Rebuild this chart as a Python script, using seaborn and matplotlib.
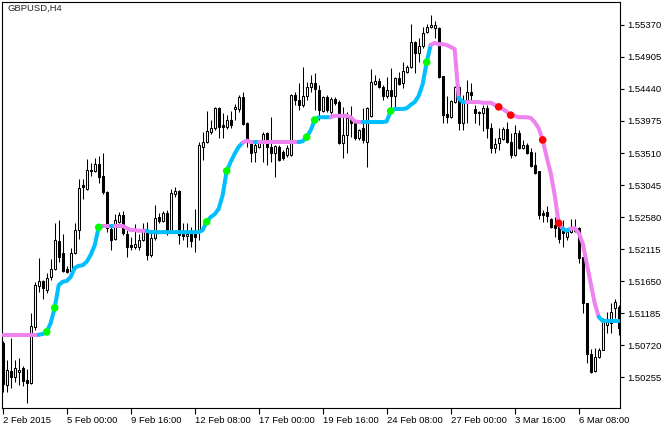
import numpy as np
import pandas as pd
import seaborn as sns
from matplotlib import pyplot as plt

# GBPUSD H4 bars (bar 0 = 2 Feb 2015, 4 hours per bar)
opens = [
    1.5075, 1.5014, 1.5034, 1.5025, 1.5033, 1.5039, 1.5021, 1.5017, 1.5098, 1.5158,
    1.5165, 1.5152, 1.5171, 1.5182, 1.5223, 1.5206, 1.5182, 1.5180, 1.5206, 1.5239,
    1.5305, 1.5299, 1.5326, 1.5325, 1.5335, 1.5318, 1.5294, 1.5241, 1.5226, 1.5251,
    1.5261, 1.5233, 1.5217, 1.5214, 1.5214, 1.5225, 1.5239, 1.5203, 1.5228, 1.5258,
    1.5252, 1.5264, 1.5236, 1.5291, 1.5296, 1.5233, 1.5230, 1.5235, 1.5235, 1.5236,
    1.5360, 1.5367, 1.5381, 1.5387, 1.5416, 1.5392, 1.5389, 1.5399, 1.5415, 1.5415,
    1.5432, 1.5395, 1.5366, 1.5352, 1.5360, 1.5367, 1.5380, 1.5360, 1.5351, 1.5360,
    1.5352, 1.5348, 1.5348, 1.5435, 1.5428, 1.5421, 1.5434, 1.5447, 1.5453, 1.5443,
    1.5412, 1.5432, 1.5411, 1.5429, 1.5425, 1.5366, 1.5377, 1.5402, 1.5395, 1.5373,
    1.5387, 1.5367, 1.5405, 1.5451, 1.5456, 1.5447, 1.5434, 1.5443, 1.5434, 1.5460,
    1.5453, 1.5469, 1.5476, 1.5512, 1.5496, 1.5506, 1.5527, 1.5534, 1.5533, 1.5533,
    1.5463, 1.5408, 1.5403, 1.5425, 1.5447, 1.5395, 1.5425, 1.5440, 1.5415, 1.5411,
    1.5409, 1.5416, 1.5387, 1.5358, 1.5366, 1.5371, 1.5386, 1.5367, 1.5348, 1.5380,
    1.5358, 1.5363, 1.5352, 1.5334, 1.5325, 1.5264, 1.5265, 1.5255, 1.5246, 1.5243,
    1.5238, 1.5229, 1.5236, 1.5242, 1.5242, 1.5200, 1.5133, 1.5059, 1.5034, 1.5055,
    1.5065, 1.5101, 1.5104, 1.5126, 1.5127,
]
highs = [
    1.5078, 1.5050, 1.5082, 1.5050, 1.5053, 1.5042, 1.5037, 1.5118, 1.5164, 1.5198,
    1.5166, 1.5177, 1.5197, 1.5249, 1.5254, 1.5233, 1.5187, 1.5213, 1.5249, 1.5313,
    1.5313, 1.5342, 1.5336, 1.5344, 1.5347, 1.5351, 1.5296, 1.5246, 1.5262, 1.5265,
    1.5267, 1.5239, 1.5229, 1.5248, 1.5233, 1.5249, 1.5251, 1.5239, 1.5275, 1.5264,
    1.5267, 1.5268, 1.5299, 1.5302, 1.5297, 1.5249, 1.5249, 1.5243, 1.5270, 1.5367,
    1.5381, 1.5412, 1.5399, 1.5418, 1.5418, 1.5409, 1.5406, 1.5412, 1.5422, 1.5435,
    1.5440, 1.5396, 1.5367, 1.5367, 1.5370, 1.5381, 1.5381, 1.5403, 1.5363, 1.5363,
    1.5355, 1.5363, 1.5437, 1.5440, 1.5453, 1.5476, 1.5454, 1.5464, 1.5467, 1.5450,
    1.5434, 1.5435, 1.5432, 1.5432, 1.5428, 1.5418, 1.5411, 1.5419, 1.5399, 1.5386,
    1.5416, 1.5418, 1.5473, 1.5464, 1.5460, 1.5450, 1.5461, 1.5474, 1.5461, 1.5469,
    1.5483, 1.5479, 1.5538, 1.5514, 1.5518, 1.5534, 1.5538, 1.5552, 1.5543, 1.5534,
    1.5463, 1.5434, 1.5428, 1.5448, 1.5448, 1.5435, 1.5457, 1.5453, 1.5421, 1.5412,
    1.5421, 1.5421, 1.5395, 1.5373, 1.5387, 1.5389, 1.5396, 1.5380, 1.5392, 1.5384,
    1.5370, 1.5366, 1.5358, 1.5352, 1.5325, 1.5268, 1.5274, 1.5257, 1.5258, 1.5252,
    1.5254, 1.5242, 1.5255, 1.5255, 1.5243, 1.5200, 1.5133, 1.5066, 1.5068, 1.5068,
    1.5111, 1.5120, 1.5133, 1.5139, 1.5130,
]
lows = [
    1.5004, 1.5004, 1.5010, 1.5018, 1.5014, 1.5012, 1.4988, 1.5015, 1.5094, 1.5149,
    1.5139, 1.5148, 1.5166, 1.5181, 1.5193, 1.5178, 1.5177, 1.5178, 1.5204, 1.5226,
    1.5284, 1.5297, 1.5318, 1.5323, 1.5307, 1.5291, 1.5236, 1.5210, 1.5225, 1.5249,
    1.5232, 1.5200, 1.5210, 1.5212, 1.5210, 1.5223, 1.5196, 1.5200, 1.5225, 1.5249,
    1.5251, 1.5232, 1.5235, 1.5287, 1.5219, 1.5225, 1.5214, 1.5214, 1.5207, 1.5225,
    1.5341, 1.5366, 1.5379, 1.5384, 1.5373, 1.5373, 1.5386, 1.5387, 1.5399, 1.5411,
    1.5392, 1.5360, 1.5338, 1.5338, 1.5358, 1.5338, 1.5334, 1.5338, 1.5316, 1.5339,
    1.5341, 1.5345, 1.5347, 1.5421, 1.5414, 1.5418, 1.5428, 1.5440, 1.5414, 1.5399,
    1.5411, 1.5411, 1.5408, 1.5421, 1.5364, 1.5344, 1.5351, 1.5374, 1.5370, 1.5370,
    1.5366, 1.5331, 1.5403, 1.5450, 1.5445, 1.5428, 1.5431, 1.5414, 1.5414, 1.5450,
    1.5445, 1.5467, 1.5474, 1.5467, 1.5483, 1.5504, 1.5525, 1.5533, 1.5518, 1.5460,
    1.5395, 1.5395, 1.5402, 1.5424, 1.5384, 1.5384, 1.5395, 1.5424, 1.5395, 1.5392,
    1.5383, 1.5373, 1.5351, 1.5351, 1.5355, 1.5370, 1.5366, 1.5344, 1.5347, 1.5357,
    1.5357, 1.5350, 1.5331, 1.5320, 1.5255, 1.5251, 1.5251, 1.5242, 1.5229, 1.5220,
    1.5214, 1.5225, 1.5235, 1.5236, 1.5191, 1.5118, 1.5046, 1.5031, 1.5033, 1.5053,
    1.5065, 1.5089, 1.5089, 1.5111, 1.5087,
]
closes = [
    1.5015, 1.5036, 1.5025, 1.5039, 1.5036, 1.5020, 1.5017, 1.5100, 1.5159, 1.5165,
    1.5155, 1.5169, 1.5182, 1.5225, 1.5200, 1.5180, 1.5178, 1.5206, 1.5239, 1.5300,
    1.5302, 1.5326, 1.5325, 1.5335, 1.5316, 1.5294, 1.5242, 1.5225, 1.5254, 1.5261,
    1.5235, 1.5214, 1.5214, 1.5219, 1.5225, 1.5241, 1.5203, 1.5228, 1.5257, 1.5252,
    1.5264, 1.5236, 1.5293, 1.5296, 1.5232, 1.5230, 1.5233, 1.5223, 1.5229, 1.5363,
    1.5367, 1.5383, 1.5387, 1.5416, 1.5389, 1.5389, 1.5399, 1.5392, 1.5418, 1.5432,
    1.5393, 1.5370, 1.5351, 1.5363, 1.5366, 1.5379, 1.5360, 1.5351, 1.5361, 1.5341,
    1.5344, 1.5358, 1.5435, 1.5428, 1.5421, 1.5434, 1.5447, 1.5453, 1.5444, 1.5414,
    1.5432, 1.5414, 1.5429, 1.5424, 1.5366, 1.5377, 1.5402, 1.5395, 1.5373, 1.5384,
    1.5370, 1.5416, 1.5454, 1.5456, 1.5447, 1.5434, 1.5443, 1.5434, 1.5460, 1.5451,
    1.5470, 1.5476, 1.5512, 1.5496, 1.5506, 1.5525, 1.5534, 1.5537, 1.5537, 1.5461,
    1.5406, 1.5403, 1.5427, 1.5447, 1.5395, 1.5425, 1.5440, 1.5435, 1.5409, 1.5409,
    1.5416, 1.5387, 1.5358, 1.5364, 1.5373, 1.5386, 1.5367, 1.5348, 1.5380, 1.5358,
    1.5363, 1.5351, 1.5332, 1.5322, 1.5261, 1.5261, 1.5260, 1.5243, 1.5242, 1.5226,
    1.5235, 1.5236, 1.5242, 1.5238, 1.5198, 1.5133, 1.5059, 1.5033, 1.5055, 1.5065,
    1.5105, 1.5105, 1.5120, 1.5135, 1.5097,
]

# smoothed indicator line, one value per bar
trend_line = [
    1.5087, 1.5087, 1.5087, 1.5087, 1.5087, 1.5087, 1.5087, 1.5087, 1.5087, 1.5087,
    1.5088, 1.5091, 1.5104, 1.5126, 1.5159, 1.5164, 1.5165, 1.5171, 1.5184, 1.5187,
    1.5188, 1.5193, 1.5203, 1.5217, 1.5243, 1.5245, 1.5245, 1.5245, 1.5245, 1.5245,
    1.5245, 1.5242, 1.5239, 1.5239, 1.5238, 1.5238, 1.5238, 1.5236, 1.5236, 1.5236,
    1.5236, 1.5236, 1.5236, 1.5236, 1.5236, 1.5236, 1.5236, 1.5236, 1.5236, 1.5236,
    1.5239, 1.5251, 1.5258, 1.5262, 1.5270, 1.5290, 1.5325, 1.5338, 1.5350, 1.5360,
    1.5366, 1.5369, 1.5367, 1.5367, 1.5367, 1.5367, 1.5367, 1.5367, 1.5367, 1.5367,
    1.5367, 1.5367, 1.5367, 1.5367, 1.5367, 1.5368, 1.5374, 1.5384, 1.5399, 1.5403,
    1.5403, 1.5403, 1.5403, 1.5405, 1.5405, 1.5405, 1.5405, 1.5403, 1.5397, 1.5396,
    1.5396, 1.5396, 1.5396, 1.5396, 1.5396, 1.5396, 1.5397, 1.5412, 1.5415, 1.5415,
    1.5415, 1.5416, 1.5421, 1.5425, 1.5434, 1.5451, 1.5483, 1.5508, 1.5511, 1.5509,
    1.5509, 1.5508, 1.5505, 1.5502, 1.5431, 1.5425, 1.5425, 1.5425, 1.5425, 1.5425,
    1.5424, 1.5424, 1.5424, 1.5421, 1.5418, 1.5415, 1.5411, 1.5406, 1.5405, 1.5403,
    1.5403, 1.5403, 1.5402, 1.5396, 1.5387, 1.5370, 1.5345, 1.5322, 1.5290, 1.5249,
    1.5241, 1.5238, 1.5241, 1.5242, 1.5235, 1.5220, 1.5191, 1.5162, 1.5133, 1.5113,
    1.5107, 1.5107, 1.5107, 1.5107, 1.5107,
]
# direction of the line as runs of bars: u = rising (blue), d = falling (pink)
trend_runs = [
    ("d", 10), ("u", 16), ("d", 2), ("u", 1), ("d", 8), ("u", 24), ("d", 3),
    ("u", 1), ("d", 10), ("u", 8), ("d", 8), ("u", 17), ("d", 7), ("u", 2),
    ("d", 24), ("u", 2), ("d", 7), ("u", 5),
]

buy_dots = [11, 13, 24, 51, 56, 76, 78, 97, 106]
sell_dots = [124, 127, 135, 139]

xtick_bars = [0, 16, 32, 48, 64, 80, 96, 112, 128, 144]
xtick_labels = ["2 Feb 2015", "5 Feb 00:00", "9 Feb 16:00", "12 Feb 08:00",
                "17 Feb 00:00", "19 Feb 16:00", "24 Feb 08:00", "27 Feb 00:00",
                "3 Mar 16:00", "6 Mar 08:00"]
ytick_values = [1.55370, 1.54905, 1.54440, 1.53975, 1.53510, 1.53045,
                1.52580, 1.52115, 1.51650, 1.51185, 1.50720, 1.50255]

UP_COLOR = "#00bfff"
DOWN_COLOR = "#ee82ee"

sns.set_theme(style="white")
plt.rcParams["font.family"] = ["Liberation Sans", "DejaVu Sans"]

bars = pd.DataFrame({"open": opens, "high": highs, "low": lows, "close": closes,
                     "line": trend_line})
bars["bar"] = np.arange(len(bars))
bars["trend"] = [d for d, n in trend_runs for _ in range(n)]

fig = plt.figure(figsize=(6.72, 4.28), dpi=100)
ax = fig.add_axes([2 / 672, 20 / 428, 618 / 672, 406 / 428])

# candles
ax.vlines(bars["bar"], bars["low"], bars["high"], color="black", lw=0.75, zorder=2)
bull = bars["close"] >= bars["open"]
body_lo = bars[["open", "close"]].min(axis=1)
body_h = (bars["close"] - bars["open"]).abs()
ax.bar(bars["bar"][bull], body_h[bull], bottom=body_lo[bull], width=0.5,
       color="white", edgecolor="black", lw=0.75, zorder=3)
ax.bar(bars["bar"][~bull], body_h[~bull], bottom=body_lo[~bull], width=0.5,
       color="black", edgecolor="black", lw=0.75, zorder=3)

# coloured indicator line, one piece per run
start = 0
for d, n in trend_runs:
    seg = bars.iloc[max(start - 1, 0):start + n]
    sns.lineplot(data=seg, x="bar", y="line", ax=ax, estimator=None, sort=False,
                 color=UP_COLOR if d == "u" else DOWN_COLOR, lw=2.9,
                 legend=False, zorder=4)
    start += n

sns.scatterplot(x=bars["bar"][buy_dots], y=bars["line"][buy_dots], ax=ax,
                color="#00ff00", s=30, edgecolor="none", zorder=5)
sns.scatterplot(x=bars["bar"][sell_dots], y=bars["line"][sell_dots], ax=ax,
                color="#ff0000", s=30, edgecolor="none", zorder=5)

ax.set_xlim(-0.175, 154.33)
ax.set_ylim(1.49805, 1.55704)
ax.set_xlabel("")
ax.set_ylabel("")

ax.set_xticks(xtick_bars)
ax.set_xticklabels(xtick_labels, ha="left")
ax.yaxis.tick_right()
ax.set_yticks(ytick_values)
ax.set_yticklabels([f"{v:.5f}" for v in ytick_values])
ax.tick_params(axis="x", bottom=True, direction="out", length=4, width=0.8,
               pad=1.5, labelsize=6.8, colors="black")
ax.tick_params(axis="y", right=True, left=False, direction="out", length=3,
               width=0.8, pad=2, labelsize=6.8, colors="black")
for s in ax.spines.values():
    s.set_color("black")
    s.set_linewidth(0.8)
ax.grid(False)

fig.text(7 / 672, 1 - 8 / 428, "GBPUSD,H4", fontsize=6.8, va="center", ha="left")

fig.savefig("out.png", dpi=100)
